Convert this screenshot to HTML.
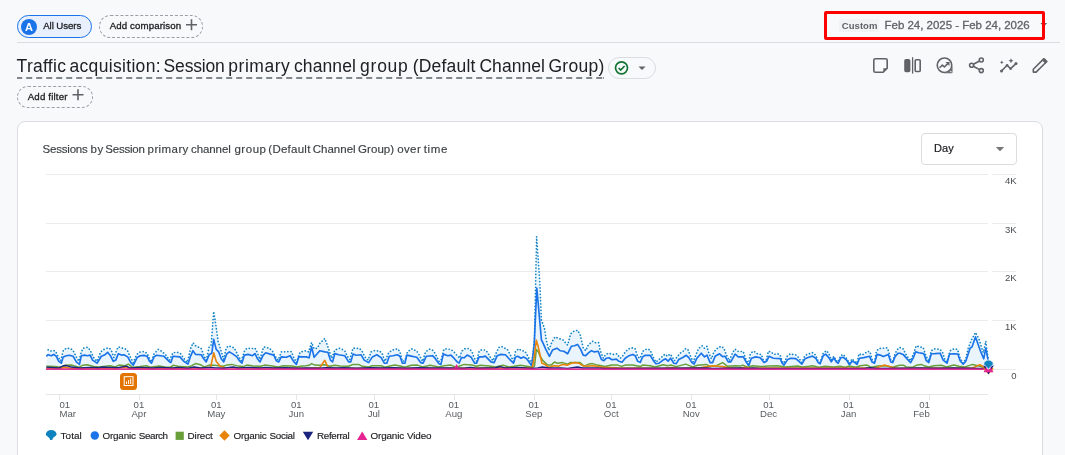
<!DOCTYPE html>
<html><head><meta charset="utf-8"><title>Traffic acquisition</title>
<style>
*{box-sizing:border-box;margin:0;padding:0}
html,body{width:1065px;height:455px;overflow:hidden;background:#f8f9fa;font-family:"Liberation Sans",sans-serif;color:#202124}
.abs{position:absolute;white-space:nowrap}
.med{-webkit-text-stroke:0.3px currentColor}
#pill-all{left:17px;top:15px;width:75px;height:23px;border:1px solid #1a73e8;border-radius:11.500px;background:#e8f0fe}
#pill-all .c{position:absolute;left:3px;top:2.500px;width:16px;height:16px;border-radius:50%;background:#1a73e8;color:#fff;font-size:11px;font-weight:bold;text-align:center;line-height:16px}
#t-all{left:43.200px;top:18.500px;font-size:9.700px;line-height:14px;color:#202124;letter-spacing:-0.080px}
#pill-cmp{left:99px;top:15px;width:104px;height:23px;border:1px dashed #9aa0a6;border-radius:11.500px}
#t-cmp{left:109.700px;top:18.500px;font-size:9.700px;line-height:14px;color:#202124;letter-spacing:0.110px}
#sep{left:17px;top:42px;width:1043px;height:1px;background:#dadce0}
#redbox{z-index:3;left:824px;top:11px;width:221px;height:29px;border:3px solid #ff0000;border-radius:2px}
#chip{left:839px;top:19px;width:40px;height:13px;background:#f1f3f4;border-radius:2px}
#t-custom{left:841.800px;top:18.800px;font-size:9.500px;line-height:13px;font-weight:bold;color:#5f6368;letter-spacing:0.050px}
#t-date{left:884.500px;top:17.800px;font-size:11.500px;line-height:15px;color:#5f6368;letter-spacing:-0.020px;-webkit-text-stroke:0.3px #5f6368}
#title-ul{left:17px;top:77px;width:587px;height:2px;background:repeating-linear-gradient(90deg,#80868b 0 5.800px,transparent 5.800px 10px);background-position:-0.800px 0}
#pill-chk{left:608px;top:57px;width:48px;height:22px;border:1px solid #dadce0;border-radius:11px}
#pill-flt{left:17px;top:86px;width:76px;height:22px;border:1px dashed #9aa0a6;border-radius:11px}
#t-flt{left:27.700px;top:89.500px;font-size:9.700px;line-height:14px;color:#202124;letter-spacing:0.170px}
#card{left:17px;top:121px;width:1026px;height:360px;border:1px solid #dadce0;border-radius:8px;background:#fff}
#dd{left:921px;top:133px;width:96px;height:32px;border:1px solid #dadce0;border-radius:4px;background:#fff}
#t-day{left:934px;top:141px;font-size:11px;line-height:15px;color:#202124;letter-spacing:0.100px;-webkit-text-stroke:0.2px #202124}
#lg{left:0;top:0}
.lg{position:absolute;white-space:nowrap;top:428.600px;font-size:9.800px;line-height:13px;color:#202124;letter-spacing:-0.160px;-webkit-text-stroke:0.150px #202124}
svg{position:absolute;left:0;top:0;overflow:visible}
svg text{font-family:"Liberation Sans",sans-serif}
.ax{font-size:9.600px;fill:#585c60}
.ay{font-size:9.5px;fill:#4a4d51}
</style></head>
<body>
<div class="abs" id="pill-all"><div class="c">A</div></div>
<div class="abs med" id="t-all">All Users</div>
<div class="abs" id="pill-cmp"></div>
<div class="abs med" id="t-cmp">Add comparison</div>
<div class="abs" id="sep"></div>
<div class="abs" id="chip"></div>
<div class="abs" id="t-custom">Custom</div>
<div class="abs" id="t-date">Feb 24, 2025 - Feb 24, 2026</div>
<div class="abs" id="redbox"></div>
<div class="abs" id="title" style="left:0;top:55px;font-size:0;line-height:22px;color:#202124;font-weight:normal;"><span style="display:inline-block;width:49.3px;margin-left:16.6px;font-size:17.5px;letter-spacing:0.274px">Traffic</span> <span style="display:inline-block;width:91.1px;margin-left:3.6px;font-size:17.5px;letter-spacing:0.322px">acquisition:</span> <span style="display:inline-block;width:61.2px;margin-left:3.0px;font-size:17.5px;letter-spacing:-0.178px">Session</span> <span style="display:inline-block;width:61.6px;margin-left:3.5px;font-size:17.5px;letter-spacing:0.543px">primary</span> <span style="display:inline-block;width:62.0px;margin-left:4.1px;font-size:17.5px;letter-spacing:0.115px">channel</span> <span style="display:inline-block;width:47.8px;margin-left:4.1px;font-size:17.5px;letter-spacing:0.759px">group</span> <span style="display:inline-block;width:62.6px;margin-left:4.9px;font-size:17.5px;letter-spacing:0.188px">(Default</span> <span style="display:inline-block;width:65.5px;margin-left:4.1px;font-size:17.5px;letter-spacing:0.049px">Channel</span> <span style="display:inline-block;width:56.0px;margin-left:3.5px;font-size:17.5px;letter-spacing:0.306px">Group)</span></div>
<div class="abs" id="title-ul"></div>
<div class="abs" id="pill-chk"></div>
<div class="abs" id="pill-flt"></div>
<div class="abs med" id="t-flt">Add filter</div>
<div class="abs" id="card"></div>
<div class="abs" id="t-card" style="left:0;top:142.3px;font-size:0;line-height:15px;color:#3c4043;font-weight:normal;-webkit-text-stroke:0.15px #3c4043;"><span style="display:inline-block;width:45.3px;margin-left:42.5px;font-size:11.5px;letter-spacing:-0.196px">Sessions</span> <span style="display:inline-block;width:12.8px;margin-left:2.6px;font-size:11.5px;letter-spacing:0.644px">by</span> <span style="display:inline-block;width:39.8px;margin-left:2.0px;font-size:11.5px;letter-spacing:-0.187px">Session</span> <span style="display:inline-block;width:40.8px;margin-left:2.6px;font-size:11.5px;letter-spacing:0.409px">primary</span> <span style="display:inline-block;width:39.8px;margin-left:2.6px;font-size:11.5px;letter-spacing:-0.083px">channel</span> <span style="display:inline-block;width:31.5px;margin-left:3.7px;font-size:11.5px;letter-spacing:0.520px">group</span> <span style="display:inline-block;width:42.0px;margin-left:2.4px;font-size:11.5px;letter-spacing:0.246px">(Default</span> <span style="display:inline-block;width:43.0px;margin-left:2.3px;font-size:11.5px;letter-spacing:0.026px">Channel</span> <span style="display:inline-block;width:36.1px;margin-left:2.4px;font-size:11.5px;letter-spacing:0.061px">Group)</span> <span style="display:inline-block;width:23.6px;margin-left:3.0px;font-size:11.5px;letter-spacing:0.408px">over</span> <span style="display:inline-block;width:23.7px;margin-left:3.0px;font-size:11.5px;letter-spacing:0.655px">time</span></div>
<div class="abs" id="dd"></div>
<div class="abs" id="t-day">Day</div>
<div class="abs" id="l1" style="left:0;top:428.6px;font-size:0;line-height:13px;color:#202124;font-weight:normal;-webkit-text-stroke:0.15px #202124;"><span style="display:inline-block;width:21.2px;margin-left:60.6px;font-size:9.9px;letter-spacing:0.085px">Total</span></div>
<div class="abs" id="l2" style="left:0;top:428.6px;font-size:0;line-height:13px;color:#202124;font-weight:normal;-webkit-text-stroke:0.15px #202124;"><span style="display:inline-block;width:33.4px;margin-left:102.5px;font-size:9.9px;letter-spacing:-0.196px">Organic</span> <span style="display:inline-block;width:29.3px;margin-left:2.9px;font-size:9.9px;letter-spacing:-0.399px">Search</span></div>
<div class="abs" id="l3" style="left:0;top:428.6px;font-size:0;line-height:13px;color:#202124;font-weight:normal;-webkit-text-stroke:0.15px #202124;"><span style="display:inline-block;width:25.2px;margin-left:187.6px;font-size:9.9px;letter-spacing:-0.119px">Direct</span></div>
<div class="abs" id="l4" style="left:0;top:428.6px;font-size:0;line-height:13px;color:#202124;font-weight:normal;-webkit-text-stroke:0.15px #202124;"><span style="display:inline-block;width:33.4px;margin-left:233.4px;font-size:9.9px;letter-spacing:-0.196px">Organic</span> <span style="display:inline-block;width:25.3px;margin-left:2.8px;font-size:9.9px;letter-spacing:-0.321px">Social</span></div>
<div class="abs" id="l5" style="left:0;top:428.6px;font-size:0;line-height:13px;color:#202124;font-weight:normal;-webkit-text-stroke:0.15px #202124;"><span style="display:inline-block;width:32.7px;margin-left:317.0px;font-size:9.9px;letter-spacing:-0.346px">Referral</span></div>
<div class="abs" id="l6" style="left:0;top:428.6px;font-size:0;line-height:13px;color:#202124;font-weight:normal;-webkit-text-stroke:0.15px #202124;"><span style="display:inline-block;width:33.5px;margin-left:370.6px;font-size:9.9px;letter-spacing:-0.180px">Organic</span> <span style="display:inline-block;width:24.5px;margin-left:2.9px;font-size:9.9px;letter-spacing:-0.145px">Video</span></div>
<svg id="ov" width="1065" height="455" viewBox="0 0 1065 455">
<!-- plus icons -->
<g stroke="#5f6368" stroke-width="1.600" fill="none">
<path d="M186 24.800h11M191.500 19.300v11"/>
<path d="M72.500 94.800h11M78 89.300v11"/>
</g>
<!-- date dropdown arrow -->
<path d="M1040.400 23h6.800l-3.400 3.600z" fill="#5f6368"/>
<!-- check pill -->
<circle cx="621.500" cy="67.800" r="6" fill="none" stroke="#137333" stroke-width="1.700"/>
<path d="M618.600 68l2.100 2.100 3.900-4.100" fill="none" stroke="#137333" stroke-width="1.700"/>
<path d="M638.500 66.500h7l-3.500 3.500z" fill="#5f6368"/>
<!-- toolbar icons -->
<g fill="none" stroke="#5f6368" stroke-width="1.600" stroke-linejoin="round">
<path d="M875.300 58.800h10.400a1.500 1.500 0 0 1 1.500 1.500v8l-4 4h-7.900a1.500 1.500 0 0 1-1.500-1.500v-10.500a1.500 1.500 0 0 1 1.500-1.500z"/>
<path d="M883.300 72v-3.700h3.700z" fill="#5f6368" stroke="none"/>
<rect x="905" y="59.700" width="4.600" height="11.800" rx="1" fill="#5f6368"/>
<path d="M912.600 57.200v16.400" stroke-width="1.300"/>
<rect x="915.200" y="59.700" width="5" height="11.800" rx="1"/>
<circle cx="944.500" cy="65.300" r="7.250"/>
<path d="M952.500 65.300v7a1 1 0 0 1-1 1h-7a8 8 0 0 0 8-8z" fill="#5f6368" stroke="none"/>
<circle cx="950.900" cy="71.700" r="0.700" fill="#fff" stroke="none"/>
<path d="M939.600 67.800l2.800-2.800 2 2 3.600-3.600" stroke-width="1.600"/>
<path d="M945.400 61.900h4.100v4.100z" fill="#5f6368" stroke="none"/>
<circle cx="971.600" cy="65.300" r="2"/><circle cx="981.300" cy="60" r="2"/><circle cx="981.300" cy="70.600" r="2"/>
<path d="M973.400 64.300l6.100-3.300M973.400 66.300l6.100 3.300"/>
<path d="M1001.500 71l5.600-5.700 3.500 3.400 5.400-5.100" stroke-width="1.600"/>
<path d="M1033.300 72.100h2.800l10.400-10.400-2.800-2.800-10.400 10.400z"/>
</g>
<g fill="#5f6368">
<circle cx="1001.500" cy="71" r="1.500"/><circle cx="1007.100" cy="65.300" r="1.300"/><circle cx="1010.600" cy="68.700" r="1.300"/><circle cx="1016" cy="63.600" r="1.500"/>
<path d="M1011 58.200l.8 1.700 1.700.8-1.700.8-.8 1.700-.8-1.700-1.700-.8 1.700-.8z"/>
<path d="M1001.800 60.600l.6 1.200 1.200.6-1.200.6-.6 1.200-.6-1.200-1.200-.6 1.200-.6z"/>
<path d="M1042.200 60.400l2.300-2.300 3.300 3.300-2.300 2.300z"/>
</g>
<!-- day arrow -->
<path d="M995.800 147h8.400l-4.200 4.200z" fill="#757575"/>
<!-- grid -->
<rect x="46" y="174" width="942" height="1" fill="#ebebeb"/>
<rect x="992" y="174" width="24" height="1" fill="#ebebeb"/>
<text x="1016.5" y="183.7" text-anchor="end" class="ay">4K</text>
<rect x="46" y="223" width="942" height="1" fill="#ebebeb"/>
<rect x="992" y="223" width="24" height="1" fill="#ebebeb"/>
<text x="1016.5" y="232.7" text-anchor="end" class="ay">3K</text>
<rect x="46" y="271" width="942" height="1" fill="#ebebeb"/>
<rect x="992" y="271" width="24" height="1" fill="#ebebeb"/>
<text x="1016.5" y="280.7" text-anchor="end" class="ay">2K</text>
<rect x="46" y="320" width="942" height="1" fill="#ebebeb"/>
<rect x="992" y="320" width="24" height="1" fill="#ebebeb"/>
<text x="1016.5" y="329.7" text-anchor="end" class="ay">1K</text>
<rect x="46" y="369" width="942" height="1" fill="#ebebeb"/>
<rect x="992" y="369" width="24" height="1" fill="#ebebeb"/>
<text x="1016.5" y="378.7" text-anchor="end" class="ay">0</text>
<rect x="46" y="394" width="942" height="1" fill="#e6e6e6"/>
<rect x="59" y="395" width="1" height="5" fill="#e6e6e6"/>
<text x="59.5" y="407.8" text-anchor="start" class="ax">01</text>
<text x="59.5" y="417" text-anchor="start" class="ax">Mar</text>
<rect x="139" y="395" width="1" height="5" fill="#e6e6e6"/>
<text x="138.9" y="407.8" text-anchor="middle" class="ax">01</text>
<text x="138.9" y="417" text-anchor="middle" class="ax">Apr</text>
<rect x="216" y="395" width="1" height="5" fill="#e6e6e6"/>
<text x="216.3" y="407.8" text-anchor="middle" class="ax">01</text>
<text x="216.3" y="417" text-anchor="middle" class="ax">May</text>
<rect x="296" y="395" width="1" height="5" fill="#e6e6e6"/>
<text x="296.3" y="407.8" text-anchor="middle" class="ax">01</text>
<text x="296.3" y="417" text-anchor="middle" class="ax">Jun</text>
<rect x="374" y="395" width="1" height="5" fill="#e6e6e6"/>
<text x="373.8" y="407.8" text-anchor="middle" class="ax">01</text>
<text x="373.8" y="417" text-anchor="middle" class="ax">Jul</text>
<rect x="454" y="395" width="1" height="5" fill="#e6e6e6"/>
<text x="453.8" y="407.8" text-anchor="middle" class="ax">01</text>
<text x="453.8" y="417" text-anchor="middle" class="ax">Aug</text>
<rect x="534" y="395" width="1" height="5" fill="#e6e6e6"/>
<text x="533.8" y="407.8" text-anchor="middle" class="ax">01</text>
<text x="533.8" y="417" text-anchor="middle" class="ax">Sep</text>
<rect x="611" y="395" width="1" height="5" fill="#e6e6e6"/>
<text x="611.2" y="407.8" text-anchor="middle" class="ax">01</text>
<text x="611.2" y="417" text-anchor="middle" class="ax">Oct</text>
<rect x="691" y="395" width="1" height="5" fill="#e6e6e6"/>
<text x="691.2" y="407.8" text-anchor="middle" class="ax">01</text>
<text x="691.2" y="417" text-anchor="middle" class="ax">Nov</text>
<rect x="769" y="395" width="1" height="5" fill="#e6e6e6"/>
<text x="768.6" y="407.8" text-anchor="middle" class="ax">01</text>
<text x="768.6" y="417" text-anchor="middle" class="ax">Dec</text>
<rect x="849" y="395" width="1" height="5" fill="#e6e6e6"/>
<text x="848.6" y="407.8" text-anchor="middle" class="ax">01</text>
<text x="848.6" y="417" text-anchor="middle" class="ax">Jan</text>
<rect x="929" y="395" width="1" height="5" fill="#e6e6e6"/>
<text x="929.8" y="407.8" text-anchor="end" class="ax">01</text>
<text x="929.8" y="417" text-anchor="end" class="ax">Feb</text>
<!-- series -->
<path d="M46,369.0 L48.1,349.8 L50.6,351.1 L53.1,350.4 L55.6,351.3 L58.2,356.9 L60.7,360.7 L63.2,350.7 L66.3,348.2 L70.1,348.5 L72.8,350.1 L75.7,355.7 L78.8,361.3 L81.3,351.9 L83.2,348.2 L87.6,347.3 L90.1,350.1 L93.8,357.8 L97.0,361.3 L100.7,351.9 L103.9,349.4 L107.0,348.2 L109.5,348.2 L111.4,350.7 L113.9,357.6 L117.0,349.4 L118.3,346.9 L122.7,348.2 L125.2,348.8 L127.7,351.1 L130.2,356.9 L133.3,362.6 L136.4,355.1 L138.9,352.3 L143.9,351.6 L147.1,353.2 L149.6,358.8 L151.5,361.9 L154.0,353.8 L158.3,349.4 L160.8,350.7 L163.4,352.8 L165.9,355.1 L169.6,360.1 L173.0,352.6 L177.4,352.3 L180.5,353.6 L183.7,358.2 L187.4,362.3 L190.5,348.8 L193.0,342.8 L195.5,345.7 L201.2,348.5 L203.7,355.1 L206.2,360.1 L209.3,346.3 L211.2,345.0 L213.7,311.5 L216.2,327.5 L218.1,341.3 L220.6,349.4 L223.7,359.4 L226.2,348.2 L228.1,346.0 L231.2,346.5 L234.4,348.2 L237.5,354.4 L241.2,360.7 L244.4,351.3 L246.9,348.2 L252.5,348.5 L255.0,348.2 L256.9,351.9 L260.0,359.4 L262.5,350.1 L263.8,346.9 L269.4,348.2 L272.6,351.3 L275.1,356.3 L278.2,360.1 L281.3,351.9 L291.4,351.6 L293.2,356.3 L296.4,362.6 L298.9,354.4 L300.7,351.9 L306.0,350.7 L308.5,351.9 L311.6,342.5 L314.1,348.8 L317.3,348.2 L319.8,343.5 L324.8,338.5 L327.3,345.0 L329.2,350.7 L331.7,358.2 L334.8,350.1 L339.2,348.2 L342.3,349.4 L345.4,351.6 L347.3,356.3 L349.8,359.4 L353.0,348.2 L356.1,348.2 L359.9,348.8 L362.4,351.9 L364.9,356.9 L368.0,360.1 L371.1,351.9 L374.2,350.7 L379.9,351.1 L382.4,354.1 L384.9,361.3 L388.7,352.6 L392.4,350.1 L397.4,348.8 L399.9,351.6 L402.4,361.3 L404.9,360.7 L407.4,351.9 L411.8,348.8 L416.8,351.1 L419.3,355.1 L422.5,361.3 L425.6,351.9 L429.4,349.1 L432.5,350.1 L435.0,353.2 L439.0,361.3 L440.9,360.7 L443.4,350.7 L444.6,348.8 L450.9,349.4 L454.0,351.9 L457.2,355.7 L459.7,358.2 L461.5,351.3 L465.3,348.5 L468.4,348.5 L471.8,351.1 L474.1,357.8 L476.6,361.3 L479.1,351.3 L481.6,349.8 L485.3,350.1 L487.8,352.6 L489.7,356.3 L492.9,360.7 L496.6,351.9 L499.1,347.3 L501.6,346.5 L504.8,348.2 L507.6,349.8 L510.4,355.1 L513.5,361.3 L515.4,351.9 L518.5,348.8 L521.7,350.7 L524.8,351.1 L527.3,355.1 L531.7,363.8 L534.4,340.0 L536.6,236.5 L539.8,282.0 L541.4,320.0 L544.4,328.1 L546.3,340.1 L548.8,350.1 L551.9,341.9 L555.0,336.9 L558.2,338.2 L563.2,340.1 L567.6,345.1 L570.7,333.8 L573.8,331.3 L577.6,330.3 L580.1,334.4 L583.2,347.6 L585.7,350.7 L588.2,345.1 L592.6,341.3 L595.8,342.8 L598.6,342.6 L600.1,350.1 L603.3,358.2 L605.1,355.1 L608.3,353.2 L613.3,354.4 L617.0,353.8 L620.2,358.2 L622.0,356.9 L625.8,351.3 L628.9,348.8 L632.1,347.8 L635.2,348.8 L637.7,356.9 L640.2,358.2 L642.7,351.3 L647.1,348.8 L650.2,350.1 L653.4,357.6 L655.9,362.0 L659.0,359.5 L665.0,354.1 L667.5,356.3 L670.0,354.1 L671.9,356.3 L674.4,360.7 L677.5,356.3 L680.7,352.8 L683.2,351.1 L685.7,348.5 L688.2,350.1 L690.1,355.1 L693.2,361.9 L696.3,353.8 L698.8,348.2 L702.0,345.7 L704.5,348.2 L707.0,346.3 L708.2,351.3 L711.4,358.8 L713.9,351.9 L718.2,347.5 L721.4,346.3 L723.9,348.2 L726.4,355.1 L729.5,360.7 L732.6,352.6 L735.1,349.1 L737.6,351.3 L743.3,351.6 L745.2,357.6 L748.3,364.4 L750.2,354.4 L752.7,351.3 L755.2,351.9 L757.7,354.1 L761.4,354.4 L763.3,360.1 L765.8,361.9 L768.3,351.3 L770.8,351.9 L774.0,354.4 L777.7,353.8 L780.2,355.1 L782.1,361.3 L784.0,363.2 L787.1,356.3 L790.2,353.8 L796.3,355.1 L798.8,357.8 L801.9,362.6 L804.4,356.6 L806.9,354.4 L812.5,352.6 L815.7,355.1 L818.2,361.3 L820.1,362.6 L823.2,353.2 L826.3,350.7 L828.8,353.2 L831.3,360.1 L833.8,356.3 L836.3,360.7 L838.2,361.9 L840.7,355.7 L843.2,354.4 L846.4,358.2 L849.5,363.2 L852.0,358.8 L854.5,361.3 L857.0,363.2 L858.9,353.8 L862.0,355.1 L865.1,353.2 L867.6,351.3 L870.1,351.9 L872.0,359.4 L874.5,361.9 L876.4,351.3 L878.9,348.5 L883.9,348.2 L887.1,347.8 L888.9,351.9 L890.8,360.1 L892.7,361.3 L895.2,353.2 L898.3,348.2 L900.0,347.5 L903.1,348.8 L906.3,355.1 L910.6,360.7 L913.8,353.2 L916.3,345.7 L919.4,346.9 L923.2,347.5 L925.7,355.1 L928.8,361.3 L931.3,350.7 L934.4,348.8 L940.1,349.4 L942.6,352.6 L945.1,360.1 L947.0,361.9 L950.1,350.7 L953.9,348.8 L957.6,349.4 L960.1,358.2 L963.2,363.2 L965.8,358.8 L968.2,348.2 L971.4,340.0 L975.5,332.5 L978.9,338.8 L981.4,346.9 L983.3,352.6 L985.8,341.3 L988.3,360.7 L988.3,369.0 Z" fill="#e9f4fc"/>
<polyline points="48.1,349.8 50.6,351.1 53.1,350.4 55.6,351.3 58.2,356.9 60.7,360.7 63.2,350.7 66.3,348.2 70.1,348.5 72.8,350.1 75.7,355.7 78.8,361.3 81.3,351.9 83.2,348.2 87.6,347.3 90.1,350.1 93.8,357.8 97.0,361.3 100.7,351.9 103.9,349.4 107.0,348.2 109.5,348.2 111.4,350.7 113.9,357.6 117.0,349.4 118.3,346.9 122.7,348.2 125.2,348.8 127.7,351.1 130.2,356.9 133.3,362.6 136.4,355.1 138.9,352.3 143.9,351.6 147.1,353.2 149.6,358.8 151.5,361.9 154.0,353.8 158.3,349.4 160.8,350.7 163.4,352.8 165.9,355.1 169.6,360.1 173.0,352.6 177.4,352.3 180.5,353.6 183.7,358.2 187.4,362.3 190.5,348.8 193.0,342.8 195.5,345.7 201.2,348.5 203.7,355.1 206.2,360.1 209.3,346.3 211.2,345.0 213.7,311.5 216.2,327.5 218.1,341.3 220.6,349.4 223.7,359.4 226.2,348.2 228.1,346.0 231.2,346.5 234.4,348.2 237.5,354.4 241.2,360.7 244.4,351.3 246.9,348.2 252.5,348.5 255.0,348.2 256.9,351.9 260.0,359.4 262.5,350.1 263.8,346.9 269.4,348.2 272.6,351.3 275.1,356.3 278.2,360.1 281.3,351.9 291.4,351.6 293.2,356.3 296.4,362.6 298.9,354.4 300.7,351.9 306.0,350.7 308.5,351.9 311.6,342.5 314.1,348.8 317.3,348.2 319.8,343.5 324.8,338.5 327.3,345.0 329.2,350.7 331.7,358.2 334.8,350.1 339.2,348.2 342.3,349.4 345.4,351.6 347.3,356.3 349.8,359.4 353.0,348.2 356.1,348.2 359.9,348.8 362.4,351.9 364.9,356.9 368.0,360.1 371.1,351.9 374.2,350.7 379.9,351.1 382.4,354.1 384.9,361.3 388.7,352.6 392.4,350.1 397.4,348.8 399.9,351.6 402.4,361.3 404.9,360.7 407.4,351.9 411.8,348.8 416.8,351.1 419.3,355.1 422.5,361.3 425.6,351.9 429.4,349.1 432.5,350.1 435.0,353.2 439.0,361.3 440.9,360.7 443.4,350.7 444.6,348.8 450.9,349.4 454.0,351.9 457.2,355.7 459.7,358.2 461.5,351.3 465.3,348.5 468.4,348.5 471.8,351.1 474.1,357.8 476.6,361.3 479.1,351.3 481.6,349.8 485.3,350.1 487.8,352.6 489.7,356.3 492.9,360.7 496.6,351.9 499.1,347.3 501.6,346.5 504.8,348.2 507.6,349.8 510.4,355.1 513.5,361.3 515.4,351.9 518.5,348.8 521.7,350.7 524.8,351.1 527.3,355.1 531.7,363.8 534.4,340.0 536.6,236.5 539.8,282.0 541.4,320.0 544.4,328.1 546.3,340.1 548.8,350.1 551.9,341.9 555.0,336.9 558.2,338.2 563.2,340.1 567.6,345.1 570.7,333.8 573.8,331.3 577.6,330.3 580.1,334.4 583.2,347.6 585.7,350.7 588.2,345.1 592.6,341.3 595.8,342.8 598.6,342.6 600.1,350.1 603.3,358.2 605.1,355.1 608.3,353.2 613.3,354.4 617.0,353.8 620.2,358.2 622.0,356.9 625.8,351.3 628.9,348.8 632.1,347.8 635.2,348.8 637.7,356.9 640.2,358.2 642.7,351.3 647.1,348.8 650.2,350.1 653.4,357.6 655.9,362.0 659.0,359.5 665.0,354.1 667.5,356.3 670.0,354.1 671.9,356.3 674.4,360.7 677.5,356.3 680.7,352.8 683.2,351.1 685.7,348.5 688.2,350.1 690.1,355.1 693.2,361.9 696.3,353.8 698.8,348.2 702.0,345.7 704.5,348.2 707.0,346.3 708.2,351.3 711.4,358.8 713.9,351.9 718.2,347.5 721.4,346.3 723.9,348.2 726.4,355.1 729.5,360.7 732.6,352.6 735.1,349.1 737.6,351.3 743.3,351.6 745.2,357.6 748.3,364.4 750.2,354.4 752.7,351.3 755.2,351.9 757.7,354.1 761.4,354.4 763.3,360.1 765.8,361.9 768.3,351.3 770.8,351.9 774.0,354.4 777.7,353.8 780.2,355.1 782.1,361.3 784.0,363.2 787.1,356.3 790.2,353.8 796.3,355.1 798.8,357.8 801.9,362.6 804.4,356.6 806.9,354.4 812.5,352.6 815.7,355.1 818.2,361.3 820.1,362.6 823.2,353.2 826.3,350.7 828.8,353.2 831.3,360.1 833.8,356.3 836.3,360.7 838.2,361.9 840.7,355.7 843.2,354.4 846.4,358.2 849.5,363.2 852.0,358.8 854.5,361.3 857.0,363.2 858.9,353.8 862.0,355.1 865.1,353.2 867.6,351.3 870.1,351.9 872.0,359.4 874.5,361.9 876.4,351.3 878.9,348.5 883.9,348.2 887.1,347.8 888.9,351.9 890.8,360.1 892.7,361.3 895.2,353.2 898.3,348.2 900.0,347.5 903.1,348.8 906.3,355.1 910.6,360.7 913.8,353.2 916.3,345.7 919.4,346.9 923.2,347.5 925.7,355.1 928.8,361.3 931.3,350.7 934.4,348.8 940.1,349.4 942.6,352.6 945.1,360.1 947.0,361.9 950.1,350.7 953.9,348.8 957.6,349.4 960.1,358.2 963.2,363.2 965.8,358.8 968.2,348.2 971.4,340.0 975.5,332.5 978.9,338.8 981.4,346.9 983.3,352.6 985.8,341.3 988.3,360.7" fill="none" stroke="#1685c4" stroke-width="1.700" stroke-dasharray="0.1 3.1" stroke-linecap="round" stroke-linejoin="round"/>
<polyline points="46.3,356.3 48.1,354.7 51.3,355.7 53.8,354.4 56.3,356.3 58.8,361.3 61.3,363.2 63.2,356.9 66.3,355.7 69.4,355.3 73.2,356.3 76.3,361.9 79.5,364.4 81.3,355.7 84.5,355.1 87.6,355.7 90.1,355.1 92.6,360.1 97.0,363.2 101.4,356.3 104.5,355.1 107.6,352.3 110.8,356.3 113.3,361.3 115.8,360.1 118.3,353.8 121.4,355.1 123.9,354.8 127.7,356.9 130.8,362.6 133.3,365.1 137.1,357.6 140.2,355.7 143.9,355.4 147.1,356.3 149.6,361.3 151.5,363.2 154.0,356.9 156.5,355.3 160.2,355.7 164.0,356.3 169.6,361.9 170.9,362.6 173.0,356.3 179.9,356.9 183.7,361.3 188.0,364.1 190.5,356.3 193.0,350.7 195.5,354.4 201.2,354.8 203.7,358.8 206.2,361.9 209.3,354.4 211.8,353.2 213.7,339.4 216.2,349.4 218.7,351.9 221.2,358.8 223.7,361.9 226.8,353.8 229.4,351.9 233.1,354.1 236.9,356.9 239.4,360.7 241.9,363.2 244.4,355.1 248.1,354.4 252.5,355.7 255.0,353.6 257.5,358.8 260.0,361.9 263.2,355.1 265.7,352.8 270.1,354.1 273.8,355.1 276.3,360.7 278.8,361.9 281.3,356.9 286.3,357.3 290.1,355.7 293.9,361.9 296.4,364.4 298.9,356.6 302.6,356.9 306.0,356.9 309.1,357.8 311.6,346.9 314.1,357.3 319.8,350.7 324.8,351.9 327.9,352.3 330.4,360.1 332.6,361.9 334.8,353.6 338.6,354.8 344.8,355.7 348.6,361.9 350.8,361.9 353.0,354.1 356.1,355.3 361.1,354.8 364.2,360.1 368.6,362.6 372.4,356.9 376.8,354.8 381.1,357.6 384.3,363.2 386.8,363.2 389.3,356.3 393.0,355.7 397.4,354.8 399.9,356.3 402.4,363.2 404.9,363.2 406.8,355.1 411.2,356.1 416.8,357.3 420.6,362.6 423.1,363.2 426.2,356.3 432.5,355.7 435.0,358.2 439.0,363.8 440.9,364.4 443.4,354.1 447.8,355.7 450.9,355.1 454.0,358.2 457.2,361.9 459.0,363.2 461.5,357.6 464.1,357.8 467.2,355.1 470.9,356.9 474.7,363.2 476.6,363.2 479.1,356.9 482.8,356.9 485.3,356.1 488.5,359.4 491.0,361.9 494.1,362.6 497.2,355.7 500.4,354.4 505.4,354.8 509.1,358.8 513.5,363.2 515.4,357.3 517.9,356.3 521.0,358.2 523.5,356.9 526.7,358.8 531.7,365.7 534.2,345.0 536.8,288.0 541.5,340.5 541.9,340.7 545.6,348.8 549.4,356.3 552.5,350.1 556.9,348.2 560.1,350.7 563.8,351.3 567.6,353.8 571.3,346.3 574.5,345.7 577.6,344.4 580.7,349.4 583.2,355.1 585.7,355.7 588.2,353.2 591.4,350.7 594.5,351.9 598.2,351.3 601.4,359.5 603.9,360.7 606.4,358.2 608.9,357.8 612.0,359.8 616.4,359.1 618.9,361.3 622.0,362.3 625.2,358.2 628.3,356.1 632.7,354.4 635.2,355.7 637.7,361.3 640.2,362.3 642.7,356.9 645.2,355.3 650.2,355.3 653.4,360.7 655.9,363.8 659.0,363.2 663.1,360.1 665.6,358.8 668.1,361.1 670.6,358.2 673.8,363.2 676.3,363.6 678.8,359.4 683.2,357.3 686.3,355.3 688.8,357.6 691.9,362.6 694.1,364.1 696.9,358.2 701.3,353.2 704.5,356.9 707.0,355.1 710.1,362.6 712.6,362.6 715.1,356.3 719.5,353.8 722.6,356.6 725.1,356.3 728.2,361.9 730.8,361.9 735.1,354.1 738.3,356.9 743.3,356.9 745.8,361.3 748.7,365.7 751.4,358.2 755.8,356.9 760.2,357.8 764.0,362.6 766.5,361.3 769.0,356.3 773.3,358.2 780.2,358.6 782.1,363.2 784.0,365.1 787.7,359.4 790.9,358.2 795.6,358.6 798.1,360.7 801.9,364.1 805.0,358.8 808.8,357.3 812.5,356.1 815.7,358.2 818.2,362.6 820.1,363.8 823.2,355.7 825.7,354.1 828.8,357.6 831.3,361.9 833.8,357.8 836.3,361.9 838.2,363.2 840.7,357.8 843.2,357.3 846.4,359.8 849.5,364.8 852.0,361.3 854.5,362.3 857.0,364.4 859.5,358.2 863.9,357.6 869.5,356.3 872.0,361.9 874.5,363.2 877.0,354.4 880.2,355.1 883.3,356.6 888.3,354.4 890.8,361.9 892.7,362.6 895.2,356.3 898.3,353.2 900.0,353.2 903.1,354.4 907.5,359.4 910.6,362.6 913.1,358.2 915.6,351.9 918.8,352.8 923.8,353.6 926.3,360.7 928.8,362.6 931.3,353.8 935.1,353.6 940.1,353.2 943.2,360.1 947.0,363.2 949.5,354.1 953.9,353.8 957.9,354.1 960.1,360.7 963.2,364.1 965.8,361.3 970.1,348.2 972.0,346.9 975.5,336.9 980.1,350.1 983.7,358.8 985.8,348.2 988.3,361.3" fill="none" stroke="#1a73e8" stroke-width="1.650" stroke-linejoin="round"/>
<polyline points="46.3,366.3 55.0,366.6 61.3,367.3 65.0,365.3 71.9,365.1 78.8,367.3 82.6,365.3 87.0,364.8 93.8,366.6 98.9,366.9 110.1,365.7 115.1,366.9 118.9,365.1 125.2,365.7 128.3,364.1 132.7,367.3 140.2,366.6 146.4,365.7 150.2,367.3 159.0,366.1 165.2,366.9 170.2,367.3 173.0,365.3 178.0,366.3 188.0,366.9 191.8,365.7 195.5,363.6 200.6,364.8 204.3,366.9 209.3,365.1 214.3,365.3 223.1,366.3 226.8,365.1 231.9,364.4 238.1,366.1 243.1,366.6 246.9,365.1 253.2,366.1 260.7,366.3 264.4,365.1 270.7,365.7 278.2,366.9 283.2,365.7 292.0,366.1 297.0,366.9 302.0,366.1 306.0,365.7 309.1,365.3 311.6,363.6 314.8,365.1 319.8,365.3 324.8,364.8 329.8,366.3 334.8,365.3 339.8,366.1 348.6,366.3 353.0,364.4 358.6,364.4 362.4,366.3 368.6,366.9 372.4,365.7 381.1,365.7 384.9,367.3 391.2,365.7 394.9,365.1 399.9,366.1 404.9,367.3 411.2,365.3 417.5,365.1 422.5,366.9 430.0,365.3 439.0,366.9 444.0,365.7 450.9,365.1 455.3,366.9 459.0,366.3 464.1,364.4 471.6,365.1 476.6,366.3 480.3,365.3 489.1,366.1 495.4,366.9 502.9,365.3 509.1,366.9 514.1,366.3 520.4,365.3 526.7,366.3 532.3,367.3 534.5,366.0 536.4,349.5 538.5,352.0 540.0,356.0 542.5,360.1 547.5,365.1 551.3,365.1 554.4,362.0 557.5,363.2 562.6,362.6 567.6,364.1 570.1,362.6 580.1,362.6 583.9,366.1 588.9,364.1 592.6,363.6 597.6,365.1 605.1,366.6 611.4,365.1 617.7,365.1 621.4,366.4 625.2,365.1 632.7,365.1 640.2,366.6 642.7,365.1 650.2,365.7 655.2,367.0 663.1,364.8 667.5,365.7 671.3,365.1 676.3,366.6 685.7,364.1 692.6,366.9 697.6,365.3 706.3,364.4 710.1,366.3 716.4,365.7 722.6,362.6 727.6,366.3 735.1,365.7 740.1,366.1 742.7,365.1 747.7,367.3 752.7,365.7 760.2,366.6 769.0,366.1 777.7,365.7 785.2,366.9 797.5,366.1 802.5,366.9 808.8,366.3 812.5,365.7 818.8,367.3 825.1,366.3 833.8,366.9 840.1,366.3 845.1,367.3 848.9,366.1 856.4,367.3 860.1,365.7 867.0,365.1 871.4,367.3 877.7,366.1 885.2,365.7 892.7,367.3 897.7,365.7 900.0,365.3 903.8,365.3 906.3,366.9 912.5,367.3 916.3,365.3 921.3,364.4 925.0,366.1 928.8,366.9 933.8,365.7 941.3,365.3 946.3,366.9 950.1,366.1 953.9,365.1 958.9,366.3 965.1,366.9 972.6,364.4 977.6,365.7 982.7,366.9 988.3,368.2" fill="none" stroke="#689f38" stroke-width="1.500" stroke-linejoin="round"/>
<polyline points="46.3,368.2 61.3,368.2 65.0,367.3 70.1,368.2 115.1,368.2 125.2,367.3 130.2,368.2 173.0,368.2 190.5,368.2 193.0,367.6 198.1,368.2 210.6,367.3 213.7,352.8 216.2,361.3 220.0,366.3 224.3,367.8 306.0,368.2 319.8,367.6 324.8,360.3 327.9,367.3 331.1,368.2 439.0,368.2 532.3,367.8 534.4,356.3 536.3,340.1 538.1,346.3 541.9,363.2 545.0,364.5 548.8,367.4 553.8,365.7 558.8,366.1 562.6,364.5 567.6,365.1 571.3,363.2 575.1,362.6 578.8,363.2 582.6,365.7 587.6,366.1 592.6,365.7 597.6,366.4 602.6,367.4 617.7,367.9 663.1,368.2 672.5,367.6 678.8,368.2 701.3,367.6 707.6,366.6 713.9,365.7 722.6,366.6 727.6,367.6 737.6,368.2 745.2,367.3 750.2,368.2 876.4,367.8 884.5,365.1 892.7,367.6 897.7,368.2 900.0,368.2 972.6,367.8 975.1,366.9 979.5,364.8 982.0,365.7 983.9,368.2 988.3,368.6" fill="none" stroke="#e8840c" stroke-width="1.600" stroke-linejoin="round"/>
<polyline points="46.3,366.7 58.8,367.6 63.2,365.3 66.3,365.1 71.3,366.6 80.1,367.6 90.1,366.9 98.9,367.3 102.6,366.6 110.1,366.9 117.7,367.3 126.4,365.7 130.2,367.6 140.2,366.9 152.7,367.6 160.2,366.9 173.0,367.6 178.0,366.9 188.0,367.8 194.3,366.6 200.6,367.6 209.3,366.9 214.3,367.3 223.1,367.8 229.4,366.9 233.1,366.6 238.1,367.6 248.1,366.9 254.4,367.3 260.7,367.6 265.7,366.9 273.2,367.6 285.7,367.3 298.2,367.8 306.0,367.6 318.5,367.8 326.0,367.3 337.3,367.6 343.6,367.3 356.1,367.8 371.1,367.3 381.1,367.6 393.7,367.3 406.2,367.8 418.7,367.3 431.2,367.6 439.0,367.6 451.5,367.6 464.1,367.8 470.3,366.9 476.6,367.8 495.4,367.3 500.4,366.1 505.4,367.6 516.6,366.9 526.7,367.6 532.3,367.8 537.5,367.4 542.5,366.6 548.8,367.6 561.3,367.4 567.6,367.9 577.6,366.6 582.6,367.6 597.6,367.4 605.1,368.1 707.6,367.6 712.6,368.1 740.1,367.6 747.7,368.1 752.7,367.6 760.2,368.1 865.1,367.8 870.1,367.3 877.7,368.1 900.0,367.8 918.8,367.6 937.6,367.8 953.9,367.6 970.1,367.8 988.3,368.3" fill="none" stroke="#1a237e" stroke-width="1.400" stroke-linejoin="round" transform="translate(0,0.45)"/>
<polyline points="455.0,368.8 456.5,365.5 458.5,368.8" fill="none" stroke="#e52592" stroke-width="1.500"/>
<rect x="46" y="368.350" width="942" height="1.550" fill="#dd2390"/>
<!-- end markers -->
<path d="M988.500 363.800l5.200 5.200-5.200 5.200-5.200-5.200z" fill="#e8840c"/>
<path d="M983.200 365.600h10.600l-5.300 8.800z" fill="#1a237e"/>
<path d="M988.500 363.500l5 8.800h-10z" fill="#e52592"/>
<path d="M983.700 364.200a4.800 4.200 0 0 1 9.600 0c0 1.400-3.300 1.800-4.100 4.800h-1.400c-.8-3-4.100-3.400-4.100-4.800z" fill="#0f83c0" stroke="#fff" stroke-width="0.800"/>
<!-- annotation -->
<rect x="120" y="373" width="17" height="17" rx="3.500" fill="#e37400"/>
<rect x="124.200" y="376.700" width="8.800" height="8.800" fill="none" stroke="#fff" stroke-width="1"/>
<path d="M126.500 384v-2.500M128.600 384v-4M130.700 384v-5.500" stroke="#fff" stroke-width="1" fill="none"/>
<!-- legend markers -->
<path d="M45.800 434.600a5.400 4.600 0 0 1 10.800 0c0 1.700-3.500 2-4.400 5.400h-2c-.9-3.400-4.400-3.700-4.400-5.400z" fill="#0f83c0"/>
<circle cx="94.800" cy="435.500" r="4.200" fill="#1a73e8"/>
<rect x="175.600" y="431.700" width="8.200" height="8.200" fill="#689f38"/>
<path d="M224.500 430.300l5.200 5.200-5.200 5.200-5.200-5.200z" fill="#e8840c"/>
<path d="M302.800 431.800h10.400l-5.200 8.400z" fill="#1a237e"/>
<path d="M357 439.900h10.400l-5.200-8.400z" fill="#e52592"/>
</svg>
</body></html>
